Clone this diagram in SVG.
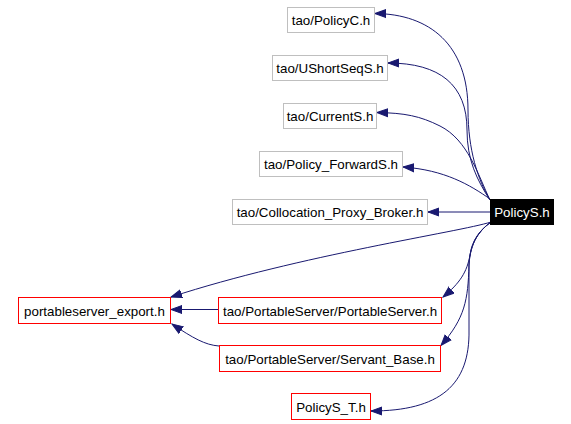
<svg xmlns="http://www.w3.org/2000/svg" width="571" height="424" viewBox="0 0 571 424">
<style>
  .n rect { fill: #ffffff; stroke-width: 1; }
  .g rect { stroke: #bfbfbf; }
  .r rect { stroke: #ff0000; }
  text { font-family: "Liberation Sans", Arial, sans-serif; font-size: 13.33px; fill: #000000; text-anchor: middle; }
  .e path { fill: none; stroke: #191970; stroke-width: 1; }
</style>
<defs>
  <marker id="ah" markerUnits="userSpaceOnUse" markerWidth="12" markerHeight="10" viewBox="0 -5 12 10" refX="11" refY="0" orient="auto">
    <path d="M0,-4 L11,0 L0,4 z" fill="#191970" stroke="#191970" stroke-width="1"/>
  </marker>
</defs>
<rect width="571" height="424" fill="#ffffff"/>
<g id="connectors" class="e">
  <path d="M490,200 C478,180 468,150 468,110 C468,45 430,14 375,13.5" marker-end="url(#ah)"/>
  <path d="M490,200 C477,180 467,160 467,130 C467,85 440,63 388,63" marker-end="url(#ah)"/>
  <path d="M490,200 C478,175 468,140 440,126 C420,116 405,113 377,112.5" marker-end="url(#ah)"/>
  <path d="M490,199 C470,185 445,170 403,167" marker-end="url(#ah)"/>
  <path d="M490,212 L428,212" marker-end="url(#ah)"/>
  <path d="M491,222 C460,232 300,255 171,297" marker-end="url(#ah)"/>
  <path d="M218,309.5 L171,309.5" marker-end="url(#ah)"/>
  <path d="M219,346 C205,345 193,338 172,324" marker-end="url(#ah)"/>
  <path d="M491,222 C480,230 472,240 470,255 C467,272 460,283 443,297" marker-end="url(#ah)"/>
  <path d="M491,222 C480,230 470,242 469,265 C468,300 465,318 441,345.5" marker-end="url(#ah)"/>
  <path d="M491,222 C480,230 470,242 469,265 L469,330 C470,385 440,411 371,411" marker-end="url(#ah)"/>
</g>
<g id="node-PolicyS" class="n">
  <rect x="490.5" y="199.5" width="63" height="25" fill="#000000" stroke="#000000" style="fill:#000000"/>
  <text x="522" y="217" style="fill:#ffffff">PolicyS.h</text>
</g>
<g id="node-PolicyC" class="n g">
  <rect x="287.5" y="7.5" width="87" height="25"/>
  <text x="331" y="25">tao/PolicyC.h</text>
</g>
<g id="node-UShortSeqS" class="n g">
  <rect x="272.5" y="55.5" width="115" height="25"/>
  <text x="330" y="73">tao/UShortSeqS.h</text>
</g>
<g id="node-CurrentS" class="n g">
  <rect x="283.5" y="103.5" width="93" height="25"/>
  <text x="330" y="121">tao/CurrentS.h</text>
</g>
<g id="node-Policy_ForwardS" class="n g">
  <rect x="259.5" y="151.5" width="143" height="25"/>
  <text x="331" y="169">tao/Policy_ForwardS.h</text>
</g>
<g id="node-Collocation_Proxy_Broker" class="n g">
  <rect x="232.5" y="199.5" width="195" height="25"/>
  <text x="330" y="217">tao/Collocation_Proxy_Broker.h</text>
</g>
<g id="node-portableserver_export" class="n r">
  <rect x="18.5" y="297.5" width="152" height="26"/>
  <text x="94.5" y="315.5">portableserver_export.h</text>
</g>
<g id="node-PortableServer" class="n r">
  <rect x="218.5" y="297.5" width="223" height="26"/>
  <text x="330" y="315.5">tao/PortableServer/PortableServer.h</text>
</g>
<g id="node-Servant_Base" class="n r">
  <rect x="219.5" y="345.5" width="221" height="26"/>
  <text x="330" y="363.5">tao/PortableServer/Servant_Base.h</text>
</g>
<g id="node-PolicyS_T" class="n r">
  <rect x="291.5" y="393.5" width="79" height="26"/>
  <text x="331" y="411.5">PolicyS_T.h</text>
</g>
</svg>
